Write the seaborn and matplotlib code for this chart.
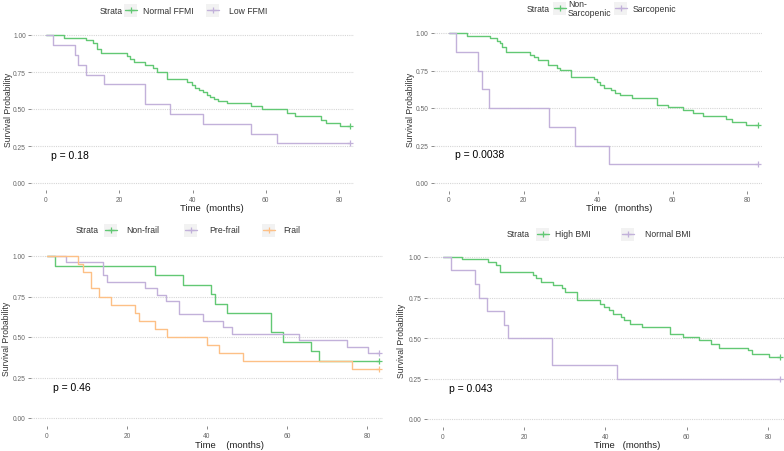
import matplotlib
matplotlib.use("Agg")
import pandas as pd
import seaborn as sns
import matplotlib.pyplot as plt
from matplotlib.patches import Rectangle
from matplotlib.lines import Line2D
from matplotlib.transforms import Affine2D

# ---- data ----
ffmi_normal_t = [0, 4.8, 11.0, 12.9, 14.0, 14.9, 22.0, 23.0, 24.0, 27.0, 29.3, 30.2, 33.0, 38.6, 39.8, 40.7,
                 41.9, 43.0, 43.9, 44.8, 45.9, 47.0, 49.3, 55.9, 58.9, 65.7, 68.0, 75.2, 76.4, 80.2, 83.0]
ffmi_normal_s = [1.0, 0.983, 0.966, 0.945, 0.905, 0.876, 0.858, 0.838, 0.815, 0.796, 0.774, 0.752, 0.703, 0.685,
                 0.664, 0.645, 0.628, 0.612, 0.597, 0.583, 0.567, 0.552, 0.538, 0.518, 0.498, 0.476, 0.450, 0.428,
                 0.406, 0.386, 0.386]
ffmi_low_t = [0, 1.8, 7.9, 8.8, 10.9, 15.8, 27.0, 33.9, 43.0, 55.9, 63.0, 83.0]
ffmi_low_s = [1.0, 0.933, 0.867, 0.800, 0.733, 0.667, 0.533, 0.467, 0.400, 0.333, 0.267, 0.267]

nonsarc_t = [0, 4.8, 10.9, 12.9, 13.6, 14.3, 15.4, 21.8, 22.8, 24.0, 26.7, 29.1, 29.8, 32.7, 38.8, 39.7, 40.6,
             41.5, 43.4, 44.5, 45.9, 49.0, 55.8, 58.9, 62.8, 65.6, 68.1, 74.4, 75.9, 79.8, 83.0]
nonsarc_s = [1.0, 0.982, 0.964, 0.948, 0.931, 0.908, 0.874, 0.854, 0.837, 0.818, 0.787, 0.768, 0.751, 0.709,
             0.691, 0.674, 0.654, 0.636, 0.617, 0.601, 0.585, 0.565, 0.523, 0.505, 0.484, 0.467, 0.445, 0.429,
             0.410, 0.390, 0.390]
sarc_t = [0, 1.9, 7.9, 8.8, 10.8, 26.9, 33.8, 43.0, 83.0]
sarc_s = [1.0, 0.875, 0.75, 0.625, 0.5, 0.375, 0.25, 0.125, 0.125]

nonfrail_t = [0, 2.0, 27.0, 33.9, 40.9, 42.0, 44.9, 55.9, 58.9, 65.9, 68.1, 83.0]
nonfrail_s = [1.0, 0.941, 0.882, 0.824, 0.765, 0.706, 0.647, 0.529, 0.471, 0.412, 0.353, 0.353]
prefrail_t = [0, 4.8, 13.9, 14.9, 24.5, 27.5, 29.8, 33.0, 38.9, 43.9, 46.2, 63.1, 75.0, 80.3, 83.0]
prefrail_s = [1.0, 0.96, 0.88, 0.84, 0.80, 0.76, 0.72, 0.64, 0.60, 0.56, 0.52, 0.48, 0.44, 0.40, 0.40]
frail_t = [0, 7.8, 8.9, 10.9, 13.1, 15.9, 22.0, 23.1, 27.0, 30.1, 39.9, 43.1, 49.1, 76.2, 83.0]
frail_s = [1.0, 0.95, 0.90, 0.80, 0.75, 0.70, 0.65, 0.60, 0.55, 0.50, 0.45, 0.40, 0.35, 0.30, 0.30]

bmi_high_t = [0, 4.8, 11.0, 13.0, 14.0, 22.1, 22.9, 24.1, 27.0, 29.3, 30.1, 32.9, 38.6, 39.7, 40.8, 41.8, 43.8,
              44.6, 46.0, 49.0, 56.0, 59.0, 63.1, 66.0, 68.0, 75.0, 76.1, 80.2, 83.0]
bmi_high_s = [1.0, 0.985, 0.969, 0.95, 0.908, 0.888, 0.868, 0.848, 0.827, 0.807, 0.786, 0.733, 0.712, 0.691,
              0.671, 0.650, 0.630, 0.609, 0.588, 0.568, 0.527, 0.506, 0.486, 0.465, 0.440, 0.424, 0.403, 0.383,
              0.383]
bmi_normal_t = [0, 2.0, 8.0, 8.8, 10.8, 14.9, 15.9, 26.8, 42.8, 83.0]
bmi_normal_s = [1.0, 0.917, 0.833, 0.75, 0.667, 0.583, 0.5, 0.333, 0.25, 0.25]

GREEN = "#62C874"
PURPLE = "#C2B1DA"
ORANGE = "#FDC086"

panels = [
    dict(curves=[("Normal FFMI", ffmi_normal_t, ffmi_normal_s, GREEN),
                 ("Low FFMI", ffmi_low_t, ffmi_low_s, PURPLE)],
         p="p = 0.18", px0=46, px80=339, py1=36, py0=184, xmax=84.0,
         ylab=(9, 110), xlab=(212, 209, "Time  (months)"),
         legend=dict(y=11, strata=100, keys=[131, 213], labels=[143, 229])),
    dict(curves=[("Non-\nSarcopenic", nonsarc_t, nonsarc_s, GREEN),
                 ("Sarcopenic", sarc_t, sarc_s, PURPLE)],
         p="p = 0.0038", px0=449, px80=747, py1=34, py0=184, xmax=84.0,
         ylab=(411, 110), xlab=(619, 209, "Time   (months)"),
         legend=dict(y=9, strata=527, keys=[560, 621], labels=[568, 633])),
    dict(curves=[("Non-frail", nonfrail_t, nonfrail_s, GREEN),
                 ("Pre-frail", prefrail_t, prefrail_s, PURPLE),
                 ("Frail", frail_t, frail_s, ORANGE)],
         p="p = 0.46", px0=47, px80=367, py1=257, py0=419, xmax=84.0,
         ylab=(7, 339), xlab=(230, 446, "Time    (months)"),
         legend=dict(y=231, strata=76, keys=[111, 191, 269], labels=[126, 209, 283])),
    dict(curves=[("High BMI", bmi_high_t, bmi_high_s, GREEN),
                 ("Normal BMI", bmi_normal_t, bmi_normal_s, PURPLE)],
         p="p = 0.043", px0=443, px80=768, py1=258, py0=420, xmax=83.95,
         ylab=(402, 341), xlab=(627, 446, "Time   (months)"),
         legend=dict(y=235, strata=507, keys=[543, 628], labels=[555, 645])),
]

W, H = 784, 452
sns.set_theme(style="white")
plt.rcParams['font.family'] = ['Liberation Sans', 'DejaVu Sans']

fig = plt.figure(figsize=(W / 100, H / 100), dpi=100)
PIX = Affine2D().scale(1 / W, -1 / H).translate(0, 1) + fig.transFigure

XMIN, YMIN, YMAX = -4.0, -0.05, 1.05

for pan in panels:
    sx = (pan["px80"] - pan["px0"]) / 80.0
    sy = pan["py0"] - pan["py1"]
    left = pan["px0"] + XMIN * sx
    right = min(pan["px0"] + pan["xmax"] * sx, W)
    top = pan["py1"] - (YMAX - 1) * sy
    bottom = pan["py0"] - YMIN * sy
    ax = fig.add_axes([left / W, 1 - bottom / H, (right - left) / W, (bottom - top) / H])

    rows = []
    for name, ts, ss, col in pan["curves"]:
        rows += [dict(time=t, surv=s, strata=name) for t, s in zip(ts, ss)]
    df = pd.DataFrame(rows)
    pal = {name: col for name, _, _, col in pan["curves"]}
    sns.lineplot(data=df, x="time", y="surv", hue="strata", palette=pal, estimator=None,
                 drawstyle="steps-post", linewidth=1.0, legend=False, ax=ax)
    # censor marks at the end of follow-up
    for name, ts, ss, col in pan["curves"]:
        ax.plot(ts[-1], ss[-1], marker="+", color=col, ms=4.5, mew=0.9)

    ax.text(1.5, 0.19, pan["p"], fontsize=7.5, color="black", ha="left", va="center")

    ax.set_xlim(XMIN, pan["xmax"])
    ax.set_ylim(YMIN, YMAX)
    ax.set_xticks([0, 20, 40, 60, 80])
    ax.set_yticks([0, 0.25, 0.5, 0.75, 1.0])
    ax.set_yticklabels(["0.00", "0.25", "0.50", "0.75", "1.00"])
    ax.set_xlabel("")
    ax.set_ylabel("")
    ax.yaxis.grid(True, linestyle=(0, (1, 1)), color="#D6D6D6", linewidth=0.8)
    ax.xaxis.grid(False)
    for sp in ax.spines.values():
        sp.set_visible(False)
    ax.tick_params(axis="both", bottom=True, left=True, length=2, width=0.6, color="#777777",
                   labelsize=4.8, labelcolor="#666666", pad=2)
    ax.set_facecolor("none")

    fig.text(pan["ylab"][0], pan["ylab"][1], "Survival Probability", transform=PIX, rotation=90,
             ha="center", va="center", fontsize=6.2, color="#333333")
    fig.text(pan["xlab"][0], pan["xlab"][1], pan["xlab"][2], transform=PIX,
             ha="center", va="center", fontsize=6.8, color="#222222")

    # legend on top, ggplot style
    lg = pan["legend"]
    fig.text(lg["strata"], lg["y"], "Strata", transform=PIX, ha="left", va="center",
             fontsize=6.2, color="#333333")
    for (name, _, _, col), kx, lx in zip(pan["curves"], lg["keys"], lg["labels"]):
        fig.add_artist(Rectangle((kx - 6.5, lg["y"] - 6.5), 13, 13, transform=PIX,
                                 facecolor="#F2F2F2", edgecolor="none"))
        fig.add_artist(Line2D([kx - 6, kx + 6], [lg["y"], lg["y"]], transform=PIX, color=col, lw=1.0))
        fig.add_artist(Line2D([kx], [lg["y"]], transform=PIX, color=col, marker="+", ms=4.5, mew=0.9))
        fig.text(lx, lg["y"], name, transform=PIX, ha="left", va="center", fontsize=6.2,
                 color="#333333", linespacing=1.0)

fig.savefig("out.png", dpi=100, facecolor="white")
